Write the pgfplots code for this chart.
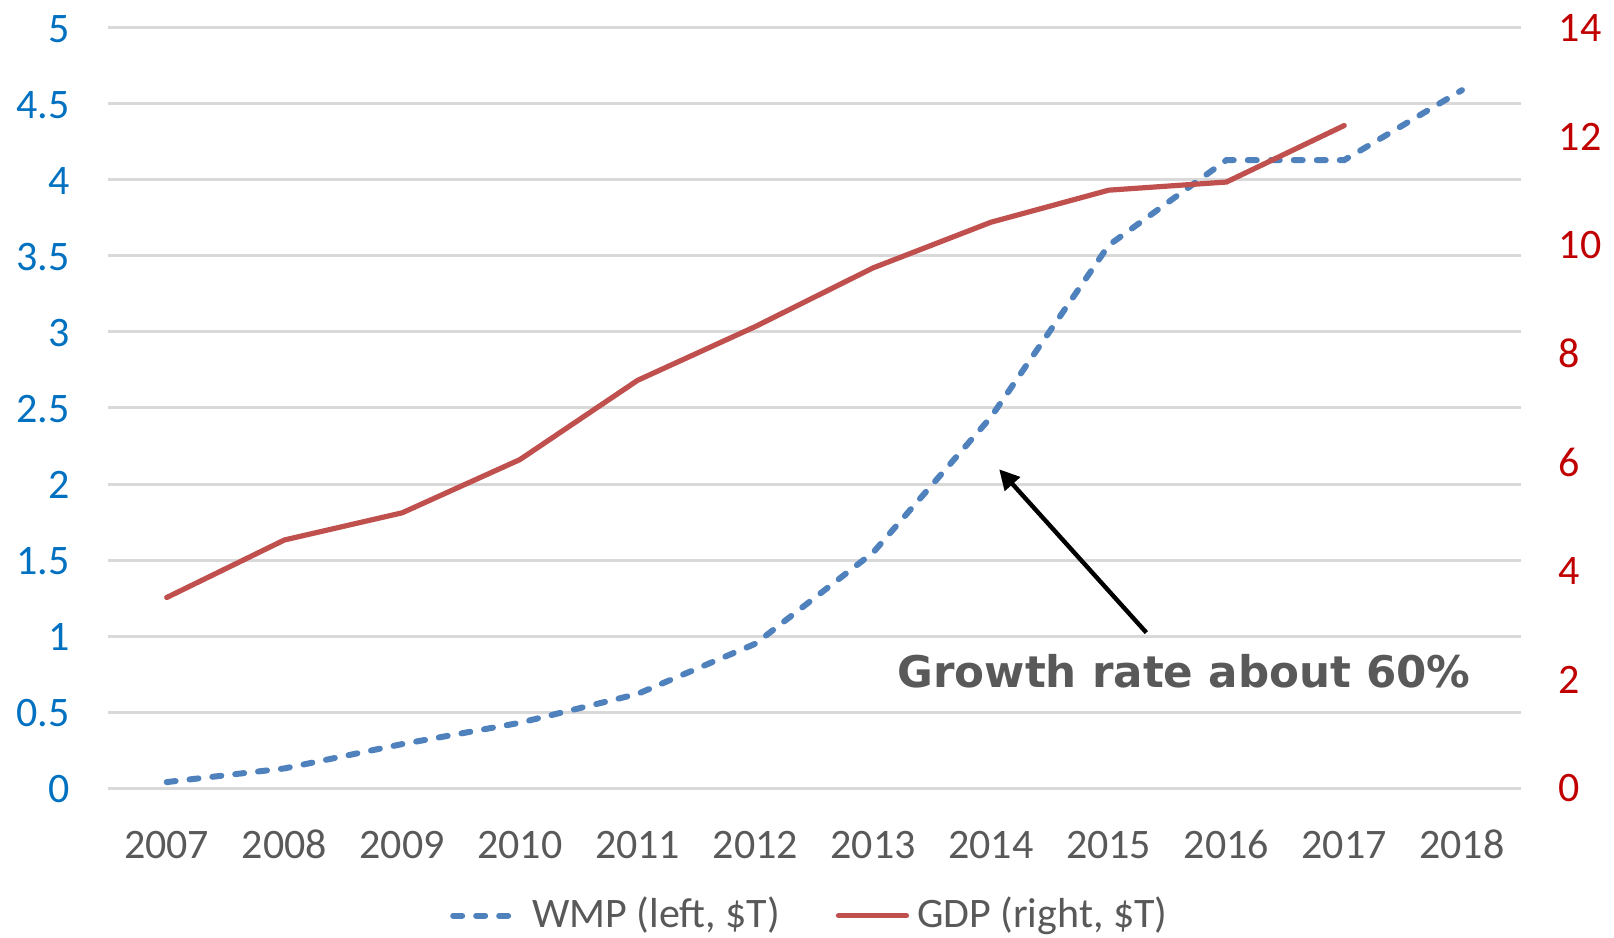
\documentclass[border=0pt]{standalone}
\usepackage{fontspec}
\setmainfont{Carlito}
\newfontfamily\annfont{DejaVu Sans}
\usepackage{pgfplots}
\pgfplotsset{compat=1.18}
\usetikzlibrary{arrows.meta}
\definecolor{wmpblue}{HTML}{4F81BD}
\definecolor{gdpred}{HTML}{C0504D}
\definecolor{leftblue}{HTML}{0070C0}
\definecolor{rightred}{HTML}{C00000}
\definecolor{txtgray}{HTML}{595959}
\definecolor{gridgray}{HTML}{D9D9D9}
\begin{document}
\begin{tikzpicture}
\pgfplotsset{
  wmpstyle/.style={color=wmpblue, line width=1.5pt, line cap=round, dash pattern=on 2.25pt off 3.5pt},
  gdpstyle/.style={color=gdpred, line width=1.3pt, line cap=round},
}
\begin{axis}[
  name=ax,
  scale only axis,
  width=353.25pt, height=190.1pt,
  xmin=2006.5, xmax=2018.5,
  ymin=0, ymax=5,
  xtick={2007,...,2018},
  typeset ticklabels with strut,
  xticklabel style={/pgf/number format/1000 sep={}, text=txtgray, font=\fontsize{10.5}{12}\selectfont, yshift=0.4pt},
  ytick={0,0.5,...,5},
  yticklabel style={text=leftblue, font=\fontsize{10.5}{12}\selectfont, yshift=-1.2pt},
  /pgf/number format/assume math mode=true,
  axis line style={draw=none},
  major tick length=0pt,
  ymajorgrids,
  grid style={gridgray, line width=0.75pt},
  xticklabel shift=6pt,
  yticklabel shift=6pt,
  clip=false,
]
\addplot[wmpstyle] coordinates {
(2007,0.04) (2008,0.13) (2009,0.29) (2010,0.43) (2011,0.62) (2012,0.95)
(2013,1.55) (2014,2.44) (2015,3.57) (2016,4.13) (2017,4.13) (2018,4.59)
};
\draw[black, line width=1.1pt, -{Triangle[length=5pt, width=5pt]}] (axis cs:2015.32,1.023) -- (axis cs:2014.07,2.097);
\node[font=\annfont\bfseries\fontsize{10.9}{13}\selectfont, text=txtgray, anchor=center] at (axis cs:2015.64,0.77) {Growth rate about 60\%};
\end{axis}
\begin{axis}[
  scale only axis,
  width=353.25pt, height=190.1pt,
  xmin=2006.5, xmax=2018.5,
  ymin=0, ymax=14,
  axis x line=none,
  axis y line*=right,
  ytick={0,2,...,14},
  yticklabel style={text=rightred, font=\fontsize{10.5}{12}\selectfont, anchor=west},
  /pgf/number format/assume math mode=true,
  axis line style={draw=none},
  major tick length=0pt,
  yticklabel shift=6pt,
  legend style={draw=none, fill=none, at={(0.499,-0.1676)}, anchor=center,
    font=\fontsize{10.5}{12}\selectfont, text=txtgray,
    /tikz/every even column/.append style={column sep=12pt}},
  legend columns=2,
  legend image code/.code={\draw[#1] (0pt,0pt) -- (17pt,0pt);},
]
\addlegendimage{wmpstyle}
\addlegendentry{WMP (left, \$T)}
\addplot[gdpstyle] coordinates {
(2007,3.51) (2008,4.57) (2009,5.07) (2010,6.05) (2011,7.51) (2012,8.50)
(2013,9.58) (2014,10.42) (2015,11.01) (2016,11.16) (2017,12.20)
};
\addlegendentry{GDP (right, \$T)}
\end{axis}
\pgfresetboundingbox
\path ([xshift=-26.95pt, yshift=-37.4pt]ax.south west) rectangle ([xshift=23.3pt, yshift=6.95pt]ax.north east);
\end{tikzpicture}
\end{document}
